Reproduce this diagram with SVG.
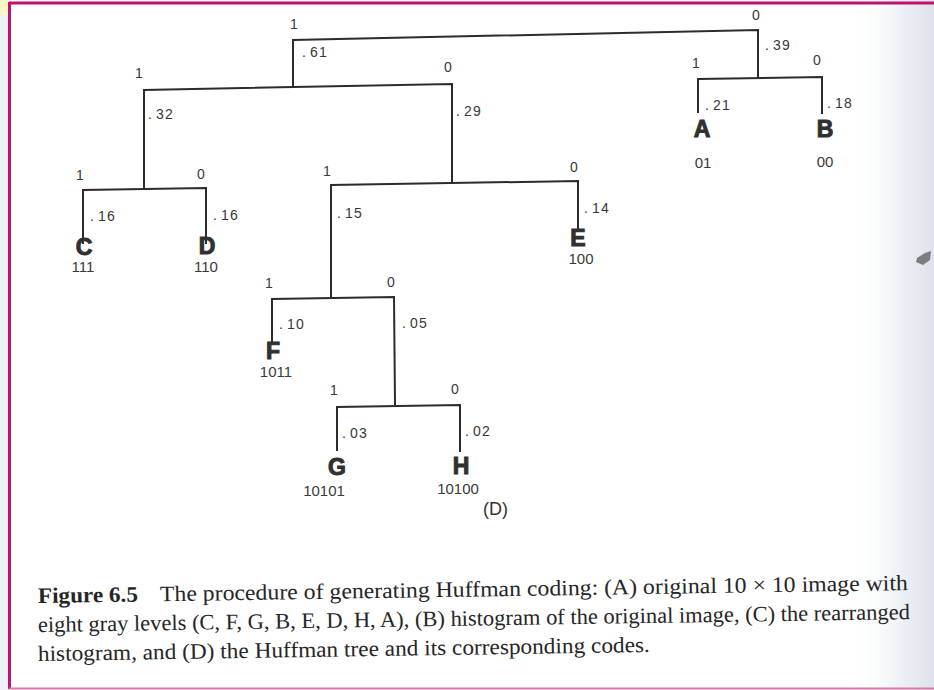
<svg xmlns="http://www.w3.org/2000/svg" width="934" height="690" viewBox="0 0 934 690">
  <defs>
    <linearGradient id="pageShade" x1="0" y1="0" x2="1" y2="0">
      <stop offset="0" stop-color="#ffffff" stop-opacity="0"/>
      <stop offset="0.6" stop-color="#e9edf3" stop-opacity="0.8"/>
      <stop offset="1" stop-color="#dde2ea"/>
    </linearGradient>
    <style>
      .edge { fill: none; stroke: #2c2c2c; stroke-width: 2; stroke-linecap: square; }
      .bit, .prob { font-family: "Liberation Sans", Arial, sans-serif; font-size: 14px; fill: #383838; }
      .sym { font-family: "Liberation Sans", Arial, sans-serif; font-size: 23px; font-weight: bold; fill: #303030; stroke: #303030; stroke-width: 1; text-anchor: middle; }
      .code { font-family: "Liberation Sans", Arial, sans-serif; font-size: 15px; fill: #3a3a3a; text-anchor: middle; }
      .cap { font-family: "Liberation Serif", "Times New Roman", serif; font-size: 22px; fill: #262626; }
      .capb { font-weight: bold; }
    </style>
  </defs>

  <!-- page background and scan border -->
  <rect x="0" y="0" width="934" height="690" fill="#ffffff"/>
  <rect x="0" y="0" width="9" height="690" fill="#eef1f7"/>
  <rect x="0" y="0" width="9" height="15" fill="#fbf6c6"/>
  <rect x="850" y="0" width="84" height="690" fill="url(#pageShade)"/>
  <line x1="9" y1="3" x2="934" y2="3" stroke="#c0126f" stroke-width="3"/>
  <line x1="9.5" y1="2" x2="9.5" y2="689" stroke="#c0126f" stroke-width="3"/>
  <line x1="9" y1="688.5" x2="934" y2="688.5" stroke="#d47aa8" stroke-width="2"/>
  <path d="M917,258 L925,253 L931,251 L930,260 L923,265 L916,262 Z" fill="#5a5a5a" opacity="0.75"/>

  <!-- tree edges -->
  <g id="connectors">
    <path class="edge" d="M293,87 V40 L758,30 V78"/>
    <path class="edge" d="M144,189 V90 L452,84 V182"/>
    <path class="edge" d="M83,243 V190 L206,188 V243"/>
    <path class="edge" d="M331,298 V185 L578,181 V228"/>
    <path class="edge" d="M272,342 V299 L394,297 L395,404"/>
    <path class="edge" d="M337,450 V407 L460,405 V451"/>
    <path class="edge" d="M698,112 V79 L822,77 V113"/>
  </g>

  <!-- internal nodes: branch bits and probabilities (probabilities set on a fixed 9px pitch) -->
  <g id="node-root">
    <text class="bit" x="290" y="29">1</text>
    <text class="bit" x="752" y="20">0</text>
  </g>
  <g id="node-61">
    <text class="prob" x="302 310 319" y="57">.61</text>
    <text class="bit" x="135" y="78">1</text>
    <text class="bit" x="444" y="72">0</text>
  </g>
  <g id="node-39">
    <text class="prob" x="765 773 782" y="50">.39</text>
    <text class="bit" x="692" y="68">1</text>
    <text class="bit" x="813" y="65">0</text>
  </g>
  <g id="node-32">
    <text class="prob" x="148 156 165" y="119">.32</text>
    <text class="bit" x="76" y="180">1</text>
    <text class="bit" x="197" y="179">0</text>
  </g>
  <g id="node-29">
    <text class="prob" x="456 464 473" y="116">.29</text>
    <text class="bit" x="323" y="176">1</text>
    <text class="bit" x="570" y="172">0</text>
  </g>
  <g id="node-15">
    <text class="prob" x="337 345 354" y="218">.15</text>
    <text class="bit" x="265" y="288">1</text>
    <text class="bit" x="387" y="287">0</text>
  </g>
  <g id="node-05">
    <text class="prob" x="402 410 419" y="328">.05</text>
    <text class="bit" x="330" y="395">1</text>
    <text class="bit" x="451" y="394">0</text>
  </g>

  <!-- leaves: probability, symbol, code -->
  <g id="leaf-A">
    <text class="prob" x="705 713 722" y="110">.21</text>
    <text class="sym" x="702" y="137">A</text>
    <text class="code" x="703" y="168">01</text>
  </g>
  <g id="leaf-B">
    <text class="prob" x="827 835 844" y="108">.18</text>
    <text class="sym" x="825" y="137">B</text>
    <text class="code" x="825" y="167">00</text>
  </g>
  <g id="leaf-C">
    <text class="prob" x="90 98 107" y="221">.16</text>
    <text class="sym" x="84" y="255">C</text>
    <text class="code" x="83" y="272">111</text>
  </g>
  <g id="leaf-D">
    <text class="prob" x="213 221 230" y="220">.16</text>
    <text class="sym" x="207" y="254">D</text>
    <text class="code" x="206" y="272">110</text>
  </g>
  <g id="leaf-E">
    <text class="prob" x="584 592 601" y="213">.14</text>
    <text class="sym" x="578" y="246">E</text>
    <text class="code" x="581" y="264">100</text>
  </g>
  <g id="leaf-F">
    <text class="prob" x="279 287 296" y="329">.10</text>
    <text class="sym" x="273" y="359">F</text>
    <text class="code" x="276" y="377">1011</text>
  </g>
  <g id="leaf-G">
    <text class="prob" x="342 350 359" y="438">.03</text>
    <text class="sym" x="337" y="475">G</text>
    <text class="code" x="324" y="496">10101</text>
  </g>
  <g id="leaf-H">
    <text class="prob" x="465 473 482" y="436">.02</text>
    <text class="sym" x="461" y="474">H</text>
    <text class="code" x="458" y="494">10100</text>
  </g>

  <text x="483" y="515" font-family="Liberation Sans, Arial, sans-serif" font-size="18" fill="#333">(D)</text>

  <!-- figure caption -->
  <g id="caption">
    <g transform="rotate(-0.85 38 603)">
      <text class="cap capb" x="38" y="603" textLength="100" lengthAdjust="spacingAndGlyphs">Figure 6.5</text>
      <text class="cap" x="160" y="603" textLength="748" lengthAdjust="spacingAndGlyphs">The procedure of generating Huffman coding: (A) original 10 × 10 image with</text>
    </g>
    <text class="cap" x="38" y="632" transform="rotate(-0.85 38 632)" textLength="872" lengthAdjust="spacingAndGlyphs">eight gray levels (C, F, G, B, E, D, H, A), (B) histogram of the original image, (C) the rearranged</text>
    <text class="cap" x="38" y="661" transform="rotate(-0.85 38 661)" textLength="612" lengthAdjust="spacingAndGlyphs">histogram, and (D) the Huffman tree and its corresponding codes.</text>
  </g>
</svg>
